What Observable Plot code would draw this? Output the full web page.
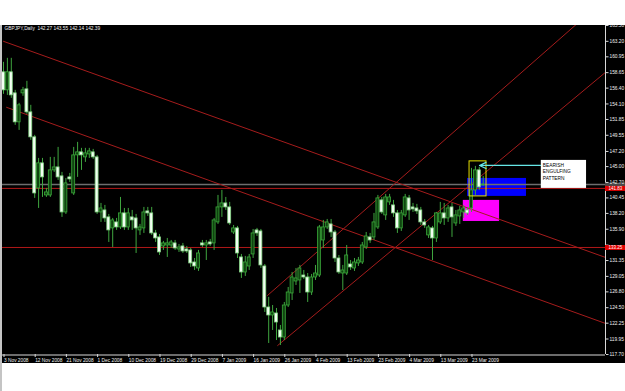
<!DOCTYPE html>
<html><head><meta charset="utf-8">
<script src="https://cdn.jsdelivr.net/npm/d3@7"></script>
<script src="https://cdn.jsdelivr.net/npm/@observablehq/plot@0.6"></script>
<style>
html,body{margin:0;padding:0;background:#fff;}
#wrap{position:relative;width:625px;height:391px;overflow:hidden;background:#fff;}
#top{height:25px;}
#edge{position:absolute;left:0;top:25px;width:2px;height:366px;background:#c4c4c4;}
svg{display:block;}
</style></head><body>
<div id="wrap"><div id="top"></div><div id="chart"></div><div id="edge"></div></div>
<script>
const header = "GBPJPY,Daily  142.27 143.55 142.14 142.39";
const open = [158.70,156.08,158.70,155.64,151.43,155.64,156.22,152.88,149.25,141.83,
145.47,140.81,140.81,144.45,144.88,143.58,138.34,143.43,141.10,146.63,
147.07,146.34,146.77,147.07,146.34,138.34,138.63,137.62,136.02,136.89,
136.16,138.20,136.16,137.62,137.47,135.73,136.02,138.49,138.20,135.29,
134.71,133.40,133.54,133.54,133.84,132.96,133.40,132.96,132.82,131.07,
130.20,133.84,133.54,133.98,133.84,136.89,139.07,139.65,139.07,135.43,
136.02,131.80,129.62,130.49,132.24,135.73,135.58,130.49,124.53,123.37,
123.66,121.19,120.17,124.82,126.57,128.31,128.46,129.18,128.89,126.71,
128.89,129.18,134.27,136.16,136.60,135.43,131.65,129.47,129.47,130.78,
130.20,130.93,131.07,133.25,134.71,134.71,136.16,140.09,137.91,139.80,
139.36,138.20,136.02,137.91,140.38,139.07,138.92,138.63,136.89,135.00,
136.02,134.56,136.89,138.20,137.47,139.07,136.74,137.76,138.34,138.63,
138.92,141.54,144.45,142.27];
const high = [160.15,160.73,160.73,156.08,154.19,156.51,157.39,153.90,149.54,146.19,
146.19,141.83,146.34,146.34,147.79,144.16,143.28,144.01,147.79,148.52,
147.65,147.65,147.65,147.50,146.63,139.65,139.36,138.05,137.47,137.47,
140.52,138.92,138.92,138.63,138.05,136.60,139.07,139.07,139.07,135.73,
135.14,134.13,134.56,134.27,134.27,133.69,133.84,133.40,133.11,131.65,
132.82,134.27,134.27,134.42,137.47,140.81,141.54,140.52,139.80,136.45,
136.31,132.24,131.95,132.24,135.87,136.02,135.87,130.78,125.99,124.82,
124.39,121.92,125.26,127.44,129.62,130.20,130.64,129.91,129.47,129.33,
130.64,136.45,137.18,137.32,137.32,135.73,132.09,130.64,133.54,131.36,
131.65,131.80,133.98,135.43,135.29,138.20,140.81,140.52,140.96,140.96,
140.09,138.63,138.63,140.96,140.81,139.65,139.51,139.07,137.32,136.45,
136.31,138.34,139.80,139.65,139.36,139.65,138.63,139.21,139.36,139.07,
144.74,145.03,144.88,143.55];
const low = [155.50,155.35,154.92,150.99,150.26,155.21,152.59,148.81,140.38,138.92,
140.52,140.52,140.52,144.16,142.99,137.62,138.05,142.70,140.81,143.43,
144.45,145.61,146.19,146.05,138.05,136.89,136.89,133.98,133.25,135.73,
135.87,135.73,135.73,135.73,132.38,135.00,135.29,137.76,135.00,133.98,
132.09,132.82,131.80,133.11,132.82,132.53,132.38,132.38,130.35,129.91,
129.77,133.25,131.36,133.40,132.82,136.60,137.62,138.63,136.45,135.14,
131.65,128.75,129.04,129.91,131.65,134.85,130.20,123.81,119.30,121.19,
119.73,119.01,119.73,124.53,125.55,127.73,126.57,128.60,125.26,126.28,
128.46,128.89,133.11,135.87,134.71,131.07,129.33,127.00,129.18,129.91,
129.77,130.49,130.78,132.96,133.84,134.27,135.87,138.05,137.18,139.36,
137.62,135.29,135.58,137.62,137.18,138.34,138.05,136.45,136.02,134.56,
131.36,133.98,136.60,136.45,136.89,134.71,136.31,136.60,137.47,137.91,
138.34,140.81,141.54,142.14];
const close = [156.08,158.70,155.35,151.43,153.90,156.08,152.88,149.25,141.10,145.47,
143.43,141.25,144.45,144.88,143.43,138.34,142.56,143.14,146.63,147.07,
146.63,146.92,147.21,146.34,138.34,138.92,137.47,135.73,137.18,136.16,
138.20,136.16,138.20,137.18,136.02,136.16,138.34,138.20,135.29,134.56,
132.53,133.84,133.84,133.98,133.11,133.25,132.67,132.67,130.93,130.49,
132.38,133.54,133.84,133.69,137.18,139.07,139.65,139.07,136.74,136.02,
132.38,129.62,131.07,131.80,135.29,135.29,130.64,124.53,123.37,123.81,
122.35,120.17,124.82,126.71,128.89,128.75,130.20,128.89,126.71,128.89,
129.47,136.16,136.16,136.89,135.43,131.65,129.62,129.91,132.09,130.35,
131.07,131.36,133.54,134.85,134.27,136.89,140.38,138.34,140.52,140.52,
138.20,136.02,138.20,140.52,138.63,138.78,138.49,136.89,136.45,136.16,
134.56,138.20,138.20,137.47,138.92,137.62,137.91,138.63,138.92,138.20,
141.54,144.45,141.98,142.39];

const dateIdx = [0,8,16,24,32,40,48,56,64,72,80,88,96,104,112,120];
const dateLabels = ["3 Nov 2008","12 Nov 2008","21 Nov 2008","1 Dec 2008","10 Dec 2008","19 Dec 2008","29 Dec 2008","7 Jan 2009","16 Jan 2009","26 Jan 2009","4 Feb 2009","13 Feb 2009","23 Feb 2009","4 Mar 2009","13 Mar 2009","23 Mar 2009"];
const priceLabels = ["117.70","119.95","122.25","124.50","126.80","129.05","131.35","133.60","135.90","138.20","140.45","142.70","145.00","147.20","149.55","151.85","154.10","156.40","158.65","160.95","163.20","165.50"];

const bidPrice = [142.39];
const redLevels = [141.83, 133.25];
const trendDown1 = [{i:0, p:163.20}, {i:154.36, p:131.80}];
const trendDown2 = [{i:0.8, p:153.61}, {i:154.36, p:122.21}];
const channelLow = [{i:70.3, p:119.01}, {i:154.36, p:158.70}];
const channelHigh = [{i:67.7, p:126.28}, {i:150, p:167.22}];
const blueZone = [{i1:119.0, i2:134.1, p1:140.67, p2:143.28}];
const magentaZone = [{i1:117.9, i2:127.2, p1:137.03, p2:140.09}];
const patternBox = [{i1:119.5, i2:123.85, p1:140.67, p2:145.76}];
const noteBox = [{i1:137.9, i2:149.5, p1:141.83, p2:145.90}];
const noteText = ["BEARISH\nENGULFING\nPATTERN"];
const noteArrow = [{i1:137.7, i2:122.05, p:145.17}];

const lastIdx = 154.36;
const bars = open.map((o, i) => ({i, o, h: high[i], l: low[i], c: close[i]}));
const bulls = bars.filter(d => d.c >= d.o);
const bears = bars.filter(d => d.c < d.o);
const yTicks = priceLabels.map(Number);
const dateMap = new Map(dateIdx.map((d, k) => [d, dateLabels[k]]));
// tick labels that sit under a red price label are hidden, as in the reference
const hiddenUnder = v => redLevels.some(r => Math.abs(r - v) < 0.45);

const chart = Plot.plot({
  width: 625, height: 338,
  marginTop: 0, marginBottom: 9, marginLeft: 0, marginRight: 20,
  x: {type: "linear", domain: [0, lastIdx], range: [3, 605], axis: null},
  y: {type: "linear", domain: [117.70, 165.50], range: [329, 0], axis: null},
  style: {background: "#000", color: "#fff", fontFamily: "Liberation Sans, Arial, sans-serif"},
  marks: [
    Plot.rect(blueZone, {x1: "i1", x2: "i2", y1: "p1", y2: "p2", fill: "#0000ff"}),
    Plot.rect(magentaZone, {x1: "i1", x2: "i2", y1: "p1", y2: "p2", fill: "#ff00ff"}),
    Plot.ruleY(bidPrice, {stroke: "#6e6e6e", strokeWidth: 1.6}),
    Plot.ruleY(redLevels, {stroke: "#b01818", strokeWidth: 1}),
    Plot.line(trendDown1, {x: "i", y: "p", stroke: "#a51c1c", strokeWidth: 1, clip: true}),
    Plot.line(trendDown2, {x: "i", y: "p", stroke: "#a51c1c", strokeWidth: 1, clip: true}),
    Plot.line(channelLow, {x: "i", y: "p", stroke: "#a51c1c", strokeWidth: 1, clip: true}),
    Plot.line(channelHigh, {x: "i", y: "p", stroke: "#a51c1c", strokeWidth: 1, clip: true}),
    Plot.ruleX(bars, {x: "i", y1: "l", y2: "h", stroke: "#3fa63f", strokeWidth: 1}),
    Plot.rect(bulls, {x1: d => d.i - 0.38, x2: d => d.i + 0.38, y1: "o", y2: "c", fill: "#104410", stroke: "#3aa83a", strokeWidth: 0.8}),
    Plot.rect(bears, {x1: d => d.i - 0.38, x2: d => d.i + 0.38, y1: "o", y2: "c", fill: "#f2fff2", stroke: "#80d080", strokeWidth: 0.8}),
    Plot.rect(patternBox, {x1: "i1", x2: "i2", y1: "p1", y2: "p2", fill: "none", stroke: "#e6e000", strokeWidth: 1}),
    Plot.rect(noteBox, {x1: "i1", x2: "i2", y1: "p1", y2: "p2", fill: "#ffffff"}),
    Plot.text(noteText, {x: noteBox[0].i1, y: noteBox[0].p2, dx: 1.5, dy: 1.5, textAnchor: "start", lineAnchor: "top", fill: "#000", fontSize: 4.8, lineHeight: 1.4}),
    Plot.arrow(noteArrow, {x1: "i1", x2: "i2", y1: "p", y2: "p", stroke: "#66e6e6", strokeWidth: 1.2, headLength: 9, headAngle: 50}),
    Plot.ruleX([lastIdx], {stroke: "#d8d8d8", strokeWidth: 1}),
    Plot.ruleY([117.70], {stroke: "#d8d8d8", strokeWidth: 1, dy: 0.5}),
    Plot.ruleY(bidPrice, {x1: lastIdx, x2: lastIdx + 5.2, stroke: "#4a4a4a", strokeWidth: 4}),
    Plot.axisY({anchor: "right", ticks: yTicks, tickFormat: d => hiddenUnder(d) ? "" : priceLabels[yTicks.indexOf(d)], tickSize: 2.5, tickPadding: 1.5, fontSize: 4.8, stroke: "#d8d8d8", fill: "#f0f0f0"}),
    Plot.axisX({anchor: "bottom", ticks: dateIdx, tickFormat: d => dateMap.get(d), tickSize: 3, tickPadding: 1.5, textAnchor: "start", dx: 0.5, fontSize: 4.8, stroke: "#d8d8d8", fill: "#f0f0f0"}),
    Plot.ruleY(redLevels, {x1: lastIdx, x2: lastIdx + 5.2, stroke: "#e00000", strokeWidth: 5}),
    Plot.text(redLevels, {x: lastIdx, y: d => d, text: d => d.toFixed(2), dx: 3, textAnchor: "start", fill: "#fff", fontSize: 4.5}),
    Plot.text([header], {frameAnchor: "top-left", dx: 4, dy: 1.5, textAnchor: "start", lineAnchor: "top", fill: "#f0f0f0", fontSize: 4.8})
  ]
});
document.getElementById("chart").appendChild(chart);
const bottom = document.createElement("div");
bottom.style.height = "28px";
document.getElementById("wrap").insertBefore(bottom, document.getElementById("edge"));
</script>
</body></html>
